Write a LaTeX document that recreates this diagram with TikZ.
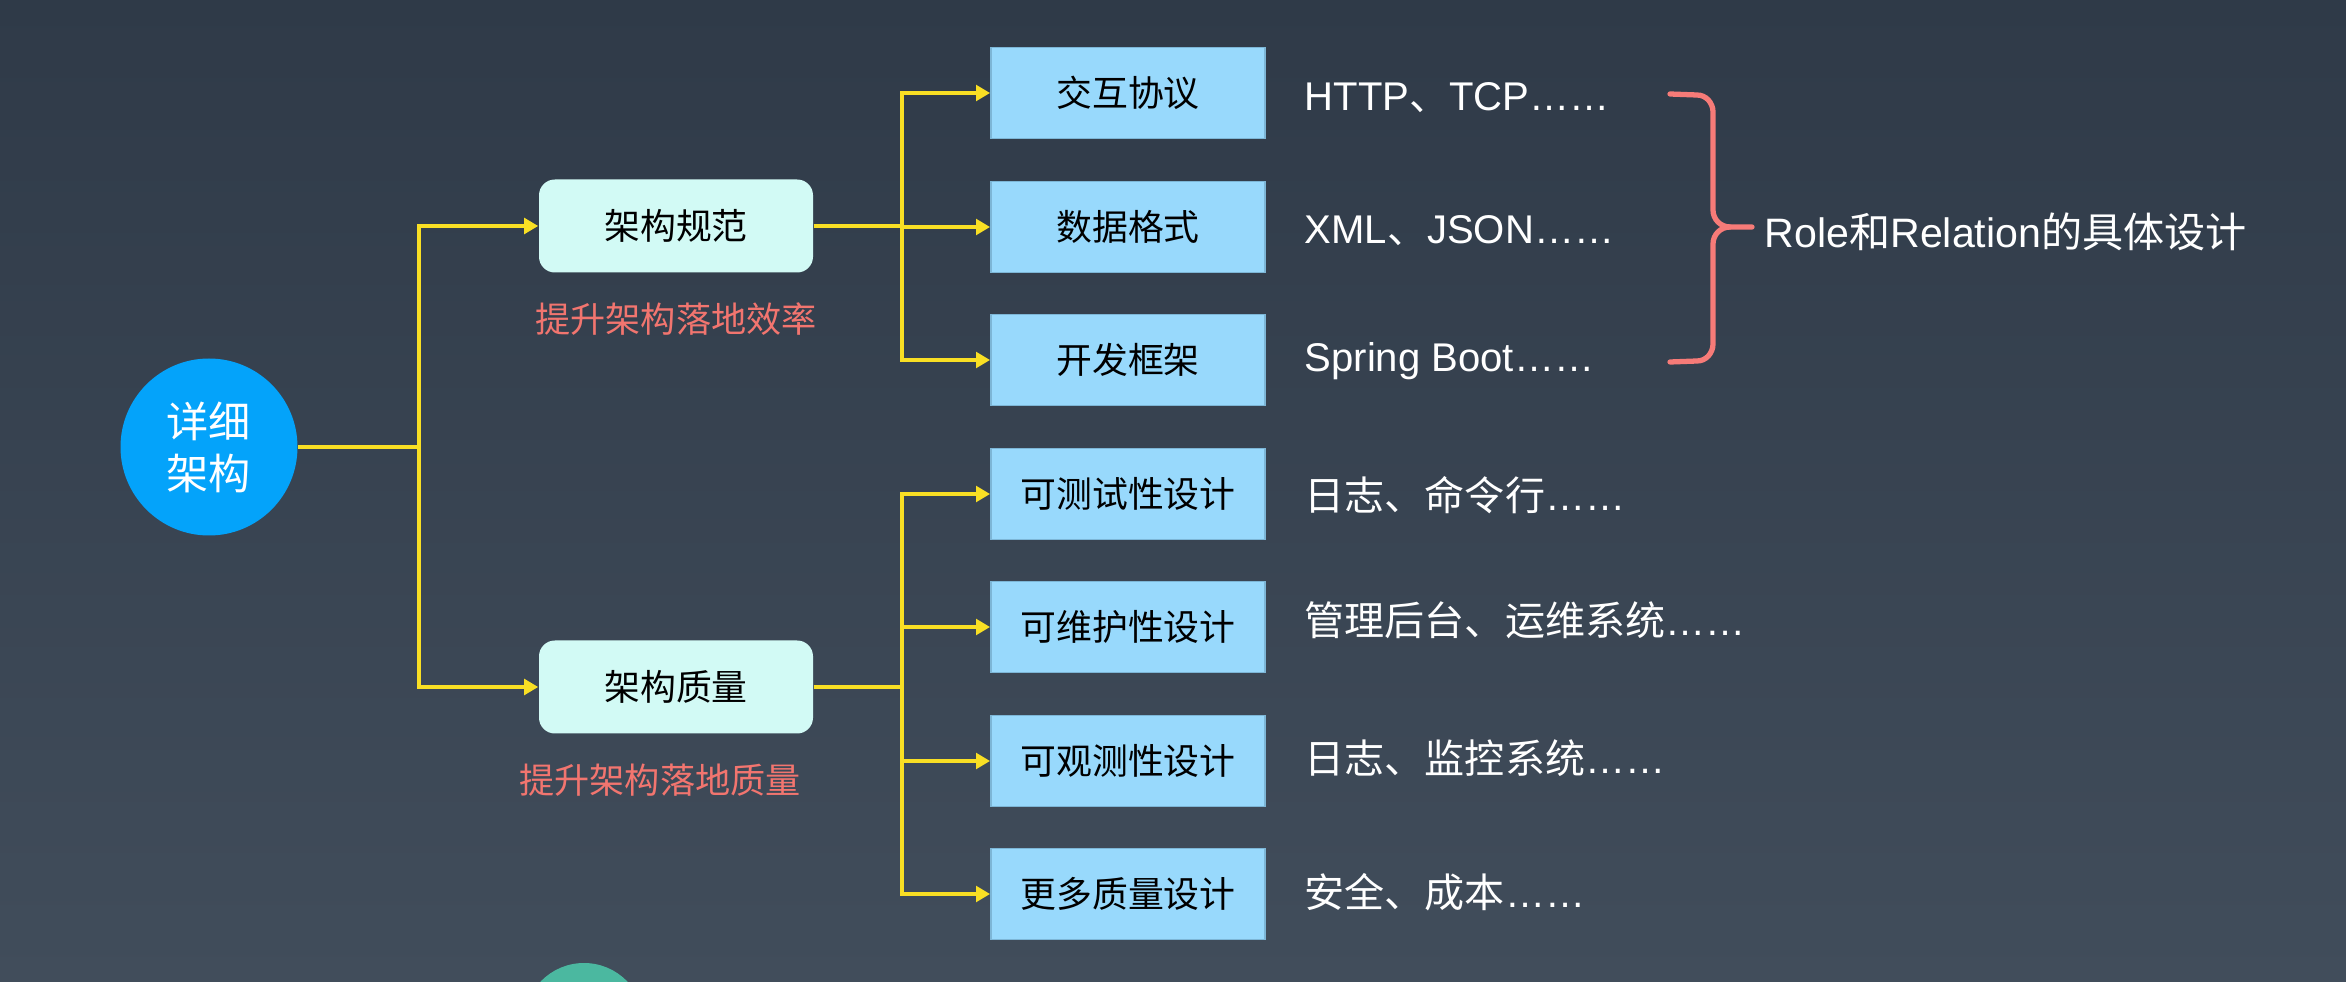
\documentclass[tikz,border=0pt]{standalone}
\usepackage{fontspec}
\setmainfont{Liberation Sans}
\newfontfamily\cjk{Noto Sans CJK SC}
\usetikzlibrary{arrows.meta}
\definecolor{bgtop}{HTML}{2F3A48}
\definecolor{bgbot}{HTML}{414D5B}
\definecolor{rootblue}{HTML}{04A3FA}
\definecolor{groupcyan}{HTML}{D2FAF5}
\definecolor{leafblue}{HTML}{98D9FC}
\definecolor{leafline}{HTML}{7DB6D6}
\definecolor{linkyellow}{HTML}{F9DF24}
\definecolor{notered}{HTML}{F2756F}
\definecolor{bracered}{HTML}{F77B78}
\definecolor{tealdot}{HTML}{4BB8A0}

\begin{document}
\begin{tikzpicture}[
    link/.style={draw=linkyellow, line width=1.15pt},
    arr/.style={link, -{Triangle[length=4pt,width=4.4pt]}},
    root/.style={circle, fill=rootblue, minimum size=1.77cm, inner sep=0pt, text=white, align=center, font=\cjk\fontsize{12}{14.8}\selectfont},
    group/.style={rectangle, rounded corners=4.5pt, fill=groupcyan, minimum width=2.74cm, minimum height=.93cm, font=\cjk\fontsize{10.2}{12}\selectfont},
    leaf/.style={rectangle, fill=leafblue, draw=leafline, line width=.5pt, minimum width=2.74cm, minimum height=.91cm, font=\cjk\fontsize{10.2}{12}\selectfont},
    note/.style={text=notered, inner sep=0pt, font=\cjk\fontsize{10}{12}\selectfont},
    hint/.style={anchor=base west, text=white, inner sep=0pt, font=\fontsize{11.4}{13}\selectfont}
]
    \useasboundingbox (0,0) rectangle (23.46,-9.82);
    \shade[top color=bgtop, bottom color=bgbot] (0,0) rectangle (23.46,-9.82);
    %the next slide peeks in at the bottom
    \fill[tealdot] (5.84,-10.23) circle (.6);

    %root and the two groups
    \node[root] (detail) at (2.09,-4.47) {详细\\架构};
    \node[group] (spec) at (6.76,-2.26) {架构规范};
    \node[group] (qual) at (6.76,-6.87) {架构质量};
    \node[note] (specnote) at (6.76,-3.19) {提升架构落地效率};
    \node[note] (qualnote) at (6.60,-7.80) {提升架构落地质量};

    %leaves
    \node[leaf] (proto) at (11.28,-0.93) {交互协议};
    \node[leaf] (fmt)   at (11.28,-2.27) {数据格式};
    \node[leaf] (frame) at (11.28,-3.60) {开发框架};
    \node[leaf] (test)  at (11.28,-4.94) {可测试性设计};
    \node[leaf] (maint) at (11.28,-6.27) {可维护性设计};
    \node[leaf] (obs)   at (11.28,-7.61) {可观测性设计};
    \node[leaf] (more)  at (11.28,-8.94) {更多质量设计};

    %examples
    \node[hint] (protoex) at (13.04,-1.11) {HTTP{\cjk 、}TCP……};
    \node[hint] (fmtex)   at (13.04,-2.44) {XML{\cjk 、}JSON……};
    \node[hint] (frameex) at (13.04,-3.72) {Spring Boot……};
    \node[hint] (testex)  at (13.04,-5.11) {{\cjk 日志、命令行}……};
    \node[hint] (maintex) at (13.04,-6.36) {{\cjk 管理后台、运维系统}……};
    \node[hint] (obsex)   at (13.04,-7.74) {{\cjk 日志、监控系统}……};
    \node[hint] (moreex)  at (13.04,-9.07) {{\cjk 安全、成本}……};

    %connectors
    \coordinate (j1) at (4.19,-4.47);
    \coordinate (j2) at (9.02,-2.26);
    \coordinate (j3) at (9.02,-6.87);
    \draw[link] (detail.east) -- (j1);
    \draw[arr] (j1) |- (spec.west);
    \draw[arr] (j1) |- (qual.west);
    \draw[link] (spec.east) -- (j2);
    \draw[arr] (j2) |- (proto.west);
    \draw[arr] (j2) |- (fmt.west);
    \draw[arr] (j2) |- (frame.west);
    \draw[link] (qual.east) -- (j3);
    \foreach \leafname in {test,maint,obs,more}
        \draw[arr] (j3) |- (\leafname.west);

    %brace over the first three
    \draw[bracered, line width=1.5pt, line cap=round]
        (16.70,-0.94) -- (16.97,-0.95) to[out=0,in=90] (17.13,-1.12)
        -- (17.13,-2.10) to[out=-90,in=180] (17.30,-2.27) -- (17.52,-2.27);
    \draw[bracered, line width=1.5pt, line cap=round]
        (17.30,-2.27) to[out=180,in=90] (17.13,-2.44)
        -- (17.13,-3.44) to[out=-90,in=0] (16.97,-3.61) -- (16.70,-3.62);
    \coordinate (tip) at (17.52,-2.27);
    \node[hint, font=\fontsize{11.7}{14}\selectfont] (design) at ([xshift=.12cm,yshift=-.21cm]tip) {Role{\cjk 和}Relation{\cjk 的具体设计}};
\end{tikzpicture}
\end{document}
